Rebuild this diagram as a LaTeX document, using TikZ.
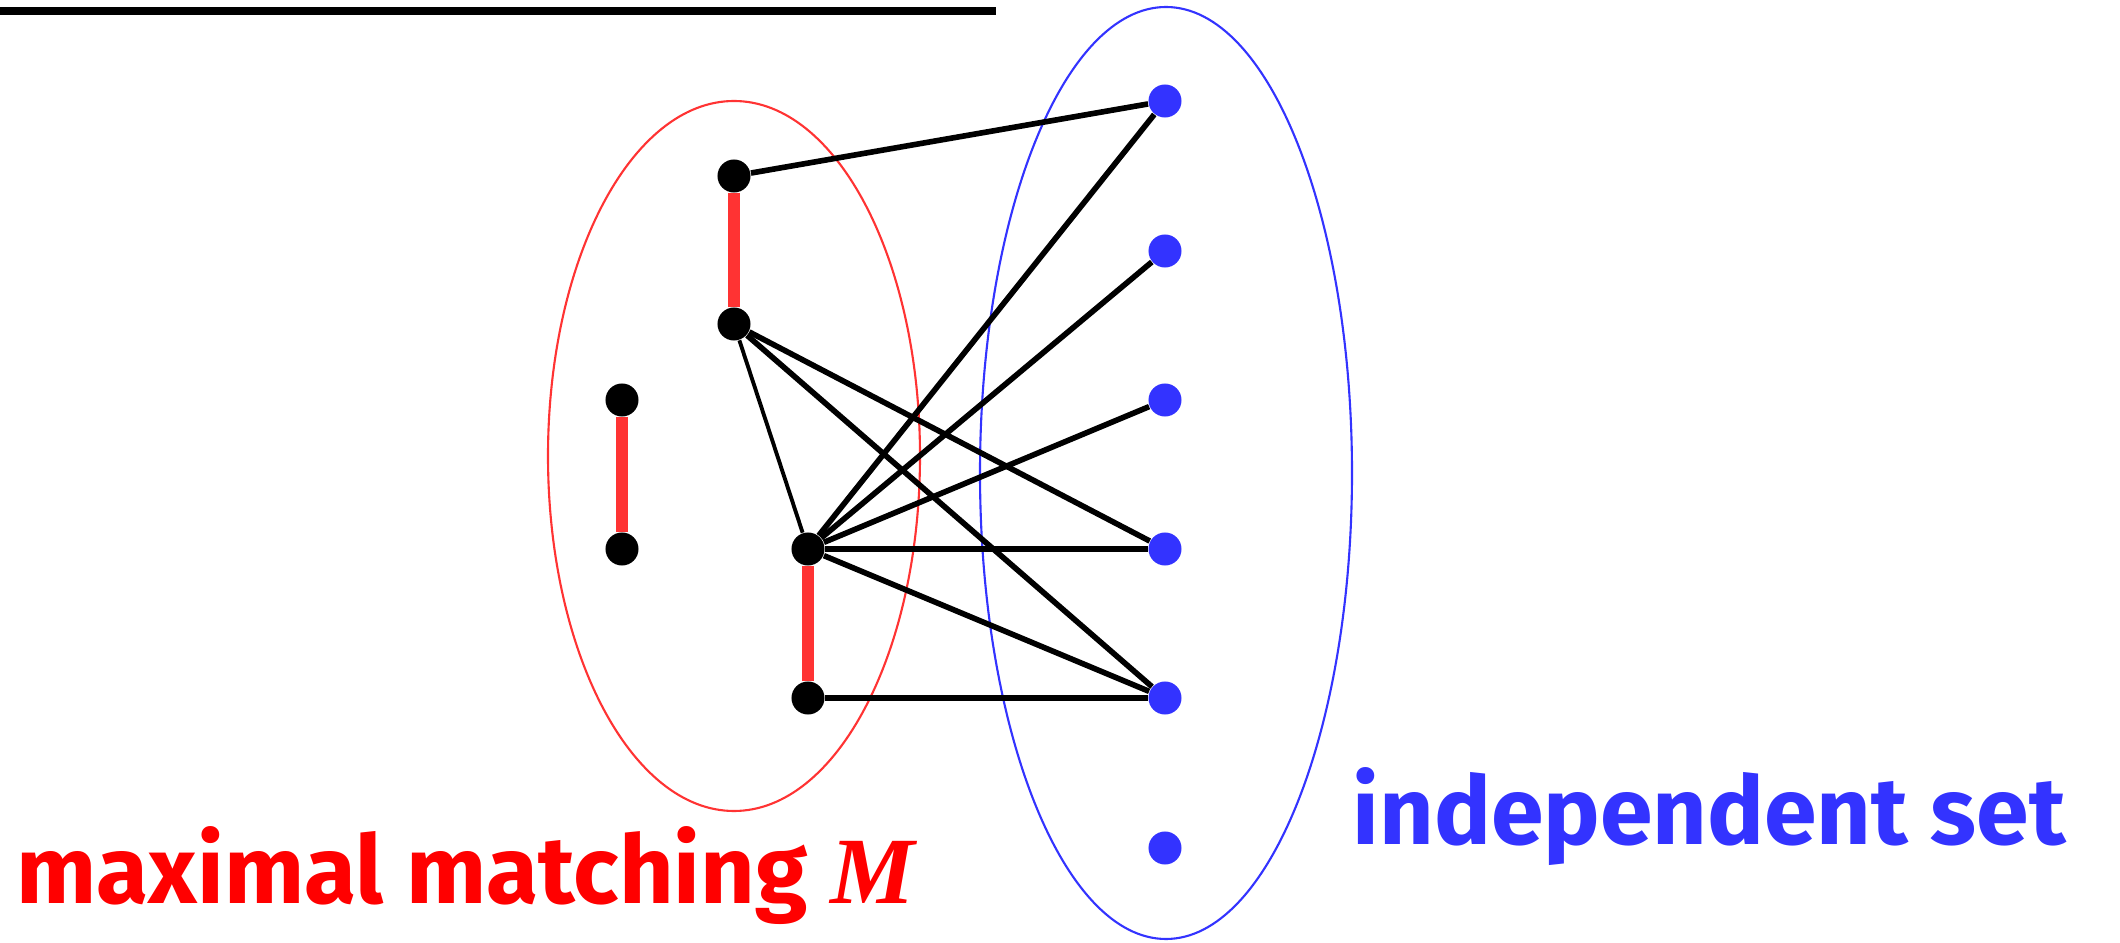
\documentclass[tikz,border=0pt]{standalone}
\usepackage{fontspec}
\setsansfont{Fira Sans}
\newfontfamily\mletter{Liberation Serif}
\usepackage{tikz}
\usetikzlibrary{positioning}
\definecolor{matchred}{RGB}{255, 51, 51}
\definecolor{labelred}{RGB}{255, 0, 0}
\definecolor{indblue}{RGB}{51, 51, 255}

\begin{document}
\begin{tikzpicture}[x=0.01cm, y=-0.01cm,
    vtx/.style={circle, fill=black, inner sep=0pt, minimum size=0.33cm},
    indvtx/.style={circle, fill=indblue, inner sep=0pt, minimum size=0.33cm},
    medge/.style={matchred, line width=3.2pt},
    edge/.style={black, line width=1.6pt},
    label/.style={font=\sffamily\bfseries\fontsize{27}{32}\selectfont, anchor=base west, inner sep=0pt}
]
    \useasboundingbox (0,0) rectangle (2120,943);

    % Rule at the top
    \draw[line width=2pt] (0,11) -- (996,11);

    % Groups
    \draw[matchred, line width=0.6pt] (734,456) ellipse [x radius=186, y radius=355];
    \draw[indblue, line width=0.6pt] (1166,473) ellipse [x radius=186, y radius=466];

    % Matched vertices
    \node[vtx] (a1) at (734,176) {};
    \node[vtx] (a2) at (734,324) {};
    \node[vtx] (b1) at (622,400) {};
    \node[vtx] (b2) at (622,549) {};
    \node[vtx] (c1) at (808,549) {};
    \node[vtx] (c2) at (808,698) {};

    % Independent set
    \node[indvtx] (u1) at (1165,101) {};
    \node[indvtx] (u2) at (1165,251) {};
    \node[indvtx] (u3) at (1165,400) {};
    \node[indvtx] (u4) at (1165,549) {};
    \node[indvtx] (u5) at (1165,698) {};
    \node[indvtx] (u6) at (1165,848) {};

    % Matching edges
    \draw[medge] (a1) -- (a2);
    \draw[medge] (b1) -- (b2);
    \draw[medge] (c1) -- (c2);

    % Other edges
    \draw[edge] (a1) -- (u1);
    \draw[black, line width=1.1pt] (a2) -- (c1);
    \draw[edge] (a2) -- (u4);
    \draw[edge] (a2) -- (u5);
    \foreach \u in {u1,u2,u3,u4,u5}
        \draw[edge] (c1) -- (\u);
    \draw[edge] (c2) -- (u5);

    % Labels
    \node[label, text=labelred] (mlabel) at (16,903) {maximal matching {\mletter\bfseries\itshape M}};
    \node[label, text=indblue] (ilabel) at (1352,845) {independent set};
\end{tikzpicture}
\end{document}
